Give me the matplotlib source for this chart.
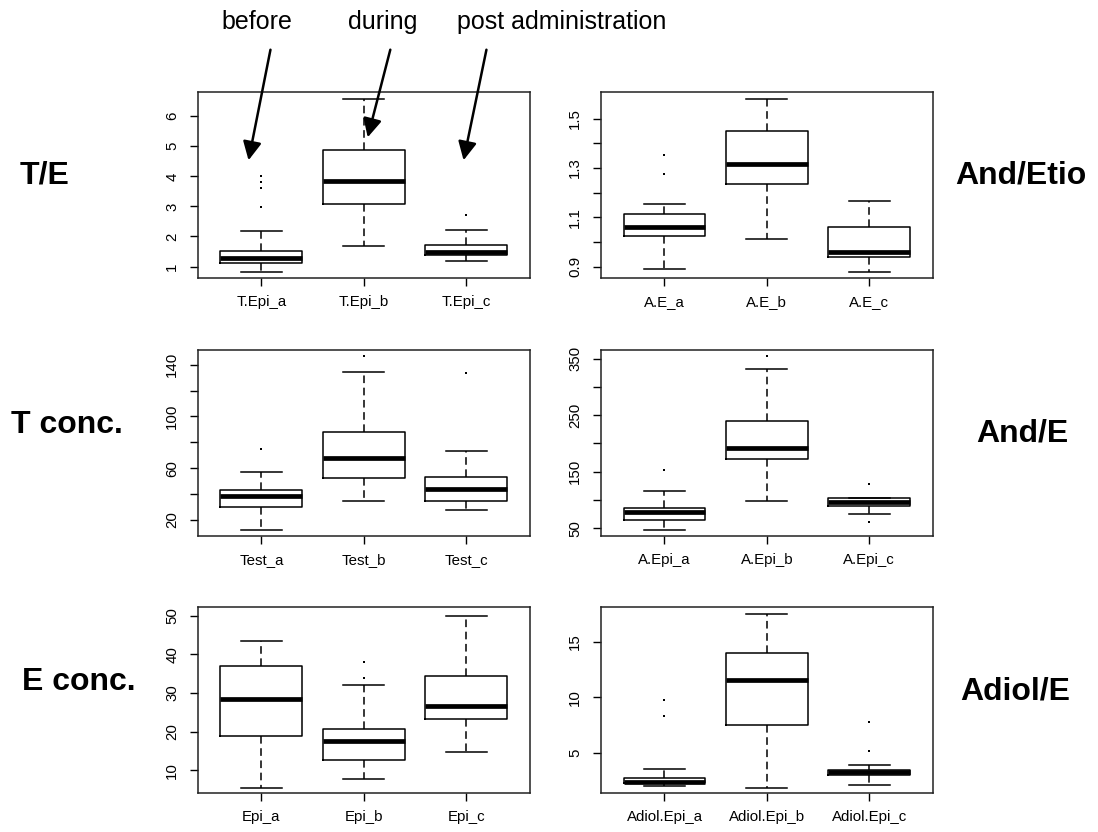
import matplotlib
matplotlib.use("Agg")
import matplotlib.pyplot as plt

plt.rcParams['font.family'] = ['Liberation Sans', 'DejaVu Sans']

# T/E ratio
te_names = ["T.Epi_a", "T.Epi_b", "T.Epi_c"]
te_lo = [0.81, 1.69, 1.20]
te_q1 = [1.11, 3.08, 1.40]
te_med = [1.30, 3.86, 1.48]
te_q3 = [1.53, 4.89, 1.73]
te_hi = [2.17, 6.58, 2.22]
te_out = [[2.98, 3.6, 3.8, 4.0], [], [2.72]]

# And/Etio ratio
ae_names = ["A.E_a", "A.E_b", "A.E_c"]
ae_lo = [0.89, 1.013, 0.878]
ae_q1 = [1.025, 1.235, 0.941]
ae_med = [1.062, 1.318, 0.960]
ae_q3 = [1.112, 1.452, 1.062]
ae_hi = [1.154, 1.582, 1.165]
ae_out = [[1.277, 1.352], [], []]

# testosterone concentration
t_names = ["Test_a", "Test_b", "Test_c"]
t_lo = [12.0, 34.6, 27.9]
t_q1 = [30.0, 52.6, 34.4]
t_med = [38.3, 67.8, 43.6]
t_q3 = [43.4, 88.1, 53.4]
t_hi = [56.8, 134.3, 73.4]
t_out = [[74.5], [146.4], [133.2]]

# And/E ratio
ape_names = ["A.Epi_a", "A.Epi_b", "A.Epi_c"]
ape_lo = [47.0, 97.6, 75.3]
ape_q1 = [64.7, 172.3, 90.0]
ape_med = [78.2, 192.3, 96.5]
ape_q3 = [85.3, 240.6, 103.0]
ape_hi = [115.8, 331.3, 103.0]
ape_out = [[152.9], [354.0], [61.2, 127.6]]

# epitestosterone concentration
e_names = ["Epi_a", "Epi_b", "Epi_c"]
e_lo = [5.5, 7.7, 14.7]
e_q1 = [18.8, 12.8, 23.3]
e_med = [28.5, 17.7, 26.6]
e_q3 = [36.9, 20.7, 34.3]
e_hi = [43.3, 32.1, 50.0]
e_out = [[], [33.8, 38.1], []]

# Adiol/E ratio
ad_names = ["Adiol.Epi_a", "Adiol.Epi_b", "Adiol.Epi_c"]
ad_lo = [2.03, 1.90, 2.14]
ad_q1 = [2.35, 7.49, 3.04]
ad_med = [2.44, 11.54, 3.34]
ad_q3 = [2.80, 13.97, 3.50]
ad_hi = [3.59, 17.46, 3.97]
ad_out = [[8.3, 9.74], [], [5.2, 7.8]]

fig = plt.figure(figsize=(10.98, 8.32), dpi=100)

cols = [0.1803, 0.5474]
rows = [0.6659, 0.3558, 0.0469]
w, h = 0.3020, 0.2230


def draw(pos, names, lo, q1, med, q3, hi, out, ylim, ticks, labels):
    ax = fig.add_axes([pos[0], pos[1], w, h])
    stats = []
    for i in range(3):
        stats.append(dict(whislo=lo[i], q1=q1[i], med=med[i], q3=q3[i],
                          whishi=hi[i], fliers=out[i]))
    ax.bxp(stats, positions=[1, 2, 3], widths=0.8, capwidths=0.4,
           boxprops=dict(color='black', lw=1.1),
           medianprops=dict(color='black', lw=3.4, solid_capstyle='butt'),
           whiskerprops=dict(color='black', lw=1.1, linestyle=(0, (5, 3))),
           capprops=dict(color='black', lw=1.1),
           flierprops=dict(marker='s', markersize=2.0, markerfacecolor='black',
                           markeredgewidth=0))
    ax.set_xlim(0.38, 3.62)
    ax.set_ylim(*ylim)
    ax.set_xticks([1, 2, 3])
    ax.set_xticklabels(names)
    ax.set_yticks(ticks)
    ax.set_yticklabels(labels, rotation=90, va='center')
    ax.tick_params(axis='both', length=5.5, width=1.0, labelsize=10.8, color='black')
    ax.tick_params(axis='y', pad=8)
    ax.tick_params(axis='x', pad=7)
    for s in ax.spines.values():
        s.set_linewidth(1.1)
        s.set_color('#222222')
    return ax


draw((cols[0], rows[0]), te_names, te_lo, te_q1, te_med, te_q3, te_hi, te_out,
     (0.62, 6.79), [1, 2, 3, 4, 5, 6], ["1", "2", "3", "4", "5", "6"])
draw((cols[1], rows[0]), ae_names, ae_lo, ae_q1, ae_med, ae_q3, ae_hi, ae_out,
     (0.854, 1.607), [0.9, 1.0, 1.1, 1.2, 1.3, 1.4, 1.5],
     ["0.9", "", "1.1", "", "1.3", "", "1.5"])
draw((cols[0], rows[1]), t_names, t_lo, t_q1, t_med, t_q3, t_hi, t_out,
     (7.7, 151), [20, 40, 60, 80, 100, 120, 140],
     ["20", "", "60", "", "100", "", "140"])
draw((cols[1], rows[1]), ape_names, ape_lo, ape_q1, ape_med, ape_q3, ape_hi, ape_out,
     (36.4, 364.6), [50, 100, 150, 200, 250, 300, 350],
     ["50", "", "150", "", "250", "", "350"])
draw((cols[0], rows[2]), e_names, e_lo, e_q1, e_med, e_q3, e_hi, e_out,
     (4.15, 52.1), [10, 20, 30, 40, 50], ["10", "20", "30", "40", "50"])
draw((cols[1], rows[2]), ad_names, ad_lo, ad_q1, ad_med, ad_q3, ad_hi, ad_out,
     (1.42, 18.09), [5, 10, 15], ["5", "10", "15"])

# row labels
side = dict(fontsize=23, fontweight='bold', ha='center', va='center')
fig.text(45 / 1098, 1 - 175 / 832, "T/E", **side)
fig.text(1021 / 1098, 1 - 175 / 832, "And/Etio", **side)
fig.text(67 / 1098, 1 - 425 / 832, "T conc.", **side)
fig.text(1022 / 1098, 1 - 433 / 832, "And/E", **side)
fig.text(79 / 1098, 1 - 682 / 832, "E conc.", **side)
fig.text(1015 / 1098, 1 - 692 / 832, "Adiol/E", **side)

# phase labels with arrows
phases = ["before", "during", "post administration"]
label_x = [257, 383, 562]
arrow_start = [(271, 47), (391, 47), (487, 47)]
arrow_tip = [(248, 163), (367, 140), (463, 163)]
for name, lx, (sx, sy), (tx, ty) in zip(phases, label_x, arrow_start, arrow_tip):
    fig.text(lx / 1098, 1 - 22 / 832, name, fontsize=18, ha='center', va='center')
    fig.add_artist(matplotlib.patches.FancyArrowPatch(
        (sx / 1098, 1 - sy / 832), (tx / 1098, 1 - ty / 832),
        transform=fig.transFigure, arrowstyle='-|>', mutation_scale=28,
        lw=1.8, color='black'))

fig.savefig("out.png", dpi=100)
